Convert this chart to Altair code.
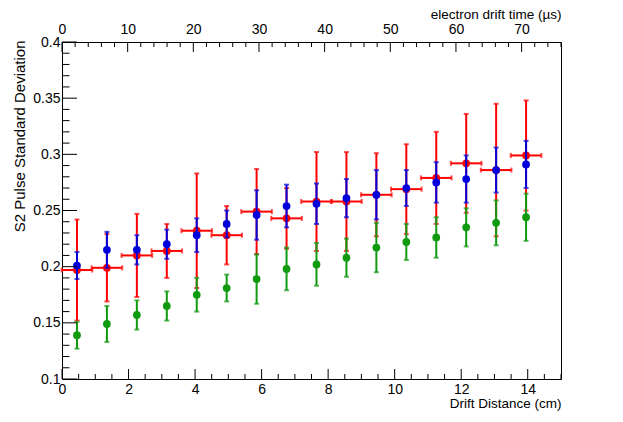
import altair as alt
import pandas as pd
import numpy as np

# ---- data ----
dist = [0.45, 1.35, 2.25, 3.15, 4.05, 4.95, 5.85, 6.75, 7.65, 8.55, 9.45, 10.35, 11.25, 12.15, 13.05, 13.95]
dist_halfwidth = 0.46

red = [0.197, 0.199, 0.210, 0.214, 0.232, 0.228, 0.249, 0.243, 0.258, 0.258, 0.264, 0.269, 0.279, 0.292, 0.286, 0.299]
red_err = [0.045, 0.030, 0.037, 0.024, 0.051, 0.026, 0.038, 0.027, 0.044, 0.044, 0.037, 0.040, 0.041, 0.044, 0.059, 0.049]

blue = [0.201, 0.215, 0.215, 0.220, 0.228, 0.238, 0.246, 0.254, 0.256, 0.261, 0.264, 0.270, 0.275, 0.278, 0.286, 0.291]
blue_err = [0.012, 0.016, 0.013, 0.013, 0.015, 0.012, 0.022, 0.019, 0.018, 0.017, 0.022, 0.016, 0.018, 0.021, 0.020, 0.021]

green = [0.139, 0.149, 0.157, 0.165, 0.175, 0.181, 0.189, 0.198, 0.202, 0.208, 0.217, 0.222, 0.226, 0.235, 0.239, 0.244]
green_err = [0.012, 0.016, 0.013, 0.013, 0.015, 0.012, 0.022, 0.019, 0.019, 0.017, 0.022, 0.016, 0.018, 0.017, 0.020, 0.021]

x_labels = [0, 2, 4, 6, 8, 10, 12, 14]
y_labels = [0.1, 0.15, 0.2, 0.25, 0.3, 0.35, 0.4]
t_labels = [0, 10, 20, 30, 40, 50, 60, 70]

x_domain = [0, 15]
y_domain = [0.1, 0.4]
t_domain = [0, 76]

RED = "#ff0000"
BLUE = "#0000dd"
GREEN = "#109a10"
FONT = "Liberation Sans"
FS = 13.5
FS_LAB = 14
FS_Y = 15

W, H = 499, 337

xs = alt.Scale(domain=x_domain, nice=False, zero=False)
ys = alt.Scale(domain=y_domain, nice=False, zero=False)
ts = alt.Scale(domain=t_domain, nice=False, zero=False)


def series_df(vals, errs, hx=0.0):
    return pd.DataFrame({
        "x": dist,
        "xlo": [d - hx for d in dist],
        "xhi": [d + hx for d in dist],
        "y": vals,
        "lo": [v - e for v, e in zip(vals, errs)],
        "hi": [v + e for v, e in zip(vals, errs)],
    })


def series_layers(df, color, horiz=False):
    base = alt.Chart(df)
    layers = [
        base.mark_rule(color=color, strokeWidth=2).encode(
            x=alt.X("x:Q", scale=xs), y=alt.Y("lo:Q", scale=ys), y2="hi:Q"),
        base.mark_tick(color=color, thickness=2, size=5, orient="horizontal").encode(
            x=alt.X("x:Q", scale=xs), y=alt.Y("lo:Q", scale=ys)),
        base.mark_tick(color=color, thickness=2, size=5, orient="horizontal").encode(
            x=alt.X("x:Q", scale=xs), y=alt.Y("hi:Q", scale=ys)),
    ]
    if horiz:
        layers += [
            base.mark_rule(color=color, strokeWidth=2).encode(
                x=alt.X("xlo:Q", scale=xs), x2="xhi:Q", y=alt.Y("y:Q", scale=ys)),
            base.mark_tick(color=color, thickness=2, size=5, orient="vertical").encode(
                x=alt.X("xlo:Q", scale=xs), y=alt.Y("y:Q", scale=ys)),
            base.mark_tick(color=color, thickness=2, size=5, orient="vertical").encode(
                x=alt.X("xhi:Q", scale=xs), y=alt.Y("y:Q", scale=ys)),
        ]
    layers.append(
        base.mark_point(filled=True, color=color, size=60, opacity=1).encode(
            x=alt.X("x:Q", scale=xs), y=alt.Y("y:Q", scale=ys)))
    return layers


red_df = series_df(red, red_err, dist_halfwidth)
blue_df = series_df(blue, blue_err)
green_df = series_df(green, green_err)

# main axes (labels only, ticks drawn inward below)
axes_df = pd.DataFrame({"x": [x_domain[0]], "y": [y_domain[0]]})
axes = alt.Chart(axes_df).mark_point(opacity=0).encode(
    x=alt.X("x:Q", scale=xs, axis=alt.Axis(
        values=x_labels, format="d", ticks=False, domain=False, grid=False,
        labelFont=FONT, labelFontSize=FS_LAB, labelColor="black", labelPadding=3,
        labelFlush=False, labelOverlap=False,
        title="Drift Distance (cm)", titleFont=FONT, titleFontSize=FS,
        titleFontWeight="normal", titleColor="black", titleAlign="right",
        titleBaseline="alphabetic", titleX=W, titleY=28)),
    y=alt.Y("y:Q", scale=ys, axis=alt.Axis(
        values=y_labels, format=".2~f", ticks=False, domain=False, grid=False,
        labelFont=FONT, labelFontSize=FS_LAB, labelColor="black", labelPadding=2,
        labelFlush=False, labelOverlap=False,
        title="S2 Pulse Standard Deviation", titleFont=FONT, titleFontSize=FS_Y,
        titleFontWeight="normal", titleColor="black", titleAlign="right",
        titleBaseline="alphabetic", titleX=-38, titleY=-2, titleAngle=-90)),
)

# inward ticks
x_minor = [v / 2 for v in range(0, 31)]
xt_df = pd.DataFrame({"v": x_minor, "major": [v % 2 == 0 for v in x_minor]})
y_minor = [round(0.1 + 0.01 * i, 3) for i in range(0, 31)]
yt_df = pd.DataFrame({"v": y_minor, "major": [round(v * 100) % 5 == 0 for v in y_minor]})
t_minor = list(range(0, 77, 2))
tt_df = pd.DataFrame({"v": t_minor, "major": [v % 10 == 0 for v in t_minor]})

xt_major = alt.Chart(xt_df).transform_filter("datum.major").mark_rule(color="black").encode(
    x=alt.X("v:Q", scale=xs), y=alt.value(H), y2=alt.value(H - 10))
xt_minor = alt.Chart(xt_df).transform_filter("!datum.major").mark_rule(color="black").encode(
    x=alt.X("v:Q", scale=xs), y=alt.value(H), y2=alt.value(H - 5))
yt_major = alt.Chart(yt_df).transform_filter("datum.major").mark_rule(color="black").encode(
    y=alt.Y("v:Q", scale=ys), x=alt.value(0), x2=alt.value(15))
yt_minor = alt.Chart(yt_df).transform_filter("!datum.major").mark_rule(color="black").encode(
    y=alt.Y("v:Q", scale=ys), x=alt.value(0), x2=alt.value(7.5))

# top axis (electron drift time)
top_major = alt.Chart(tt_df).transform_filter("datum.major").mark_rule(color="black").encode(
    x=alt.X("v:Q", scale=ts, axis=alt.Axis(
        orient="top", values=t_labels, format="d", ticks=False, domain=False, grid=False,
        labelFont=FONT, labelFontSize=FS_LAB, labelColor="black", labelPadding=6,
        labelFlush=False, labelOverlap=False,
        title="electron drift time (µs)", titleFont=FONT, titleFontSize=FS,
        titleFontWeight="normal", titleColor="black", titleAlign="right",
        titleBaseline="alphabetic", titleX=W, titleY=-24)),
    y=alt.value(0), y2=alt.value(10))
top_minor = alt.Chart(tt_df).transform_filter("!datum.major").mark_rule(color="black").encode(
    x=alt.X("v:Q", scale=ts), y=alt.value(0), y2=alt.value(5))

main = alt.layer(
    axes,
    *series_layers(red_df, RED, horiz=True),
    *series_layers(green_df, GREEN),
    *series_layers(blue_df, BLUE),
    xt_major, xt_minor, yt_major, yt_minor,
)

top = alt.layer(top_major, top_minor)

chart = alt.layer(main, top).resolve_scale(x="independent").properties(
    width=W, height=H,
    autosize=alt.AutoSizeParams(type="none"),
    padding={"left": 54, "top": 34, "right": 54, "bottom": 35},
    background="white",
).configure_view(stroke="black", strokeWidth=1)

chart.save("out.html", embed_options={"renderer": "svg", "actions": False})
